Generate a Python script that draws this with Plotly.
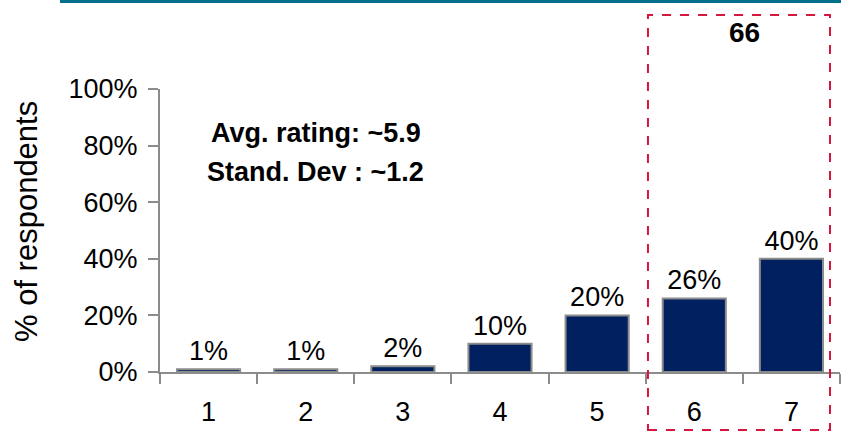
import plotly.graph_objects as go

categories = ["1", "2", "3", "4", "5", "6", "7"]
shares = [1, 1, 2, 10, 20, 26, 40]
bar_labels = ["1%", "1%", "2%", "10%", "20%", "26%", "40%"]
y_ticks = [0, 20, 40, 60, 80, 100]
y_tick_labels = ["0%", "20%", "40%", "60%", "80%", "100%"]
top_box_total = "66"
stats_lines = ["Avg. rating: ~5.9", "Stand. Dev : ~1.2"]

font_name = "Liberation Sans, Arial, sans-serif"
navy = "#002060"
grey = "#8c8c8c"

fig = go.Figure()
fig.add_trace(
    go.Bar(
        x=categories,
        y=shares,
        text=bar_labels,
        textposition="outside",
        textfont=dict(size=27, color="black", family=font_name),
        cliponaxis=False,
        marker=dict(color=navy, line=dict(color=grey, width=2)),
        width=0.65,
    )
)

fig.update_layout(
    width=841,
    height=434,
    margin=dict(l=160, r=1, t=89, b=62),
    plot_bgcolor="white",
    paper_bgcolor="white",
    showlegend=False,
    font=dict(family=font_name, size=27, color="black"),
)

fig.update_xaxes(
    type="category",
    range=[-0.5, 6.5],
    automargin=False,
    showline=True,
    linecolor=grey,
    linewidth=2,
    ticks="outside",
    ticklen=10,
    tickcolor=grey,
    tickwidth=2,
    tickson="boundaries",
    ticklabelstandoff=15,
    showgrid=False,
    tickfont=dict(size=27),
)
fig.update_yaxes(
    range=[0, 100],
    automargin=False,
    tickvals=y_ticks,
    ticktext=y_tick_labels,
    showline=True,
    linecolor=grey,
    linewidth=2,
    ticks="outside",
    ticklen=10,
    tickcolor=grey,
    tickwidth=2,
    ticklabelstandoff=5,
    showgrid=False,
    zeroline=False,
    tickfont=dict(size=27),
)

# y title as a rotated annotation so it sits where the original has it
fig.add_annotation(
    x=-0.197, y=0.53, xref="paper", yref="paper", text="% of respondents",
    textangle=-90, showarrow=False, xanchor="center", yanchor="middle",
    font=dict(size=31),
)

# teal rule along the top
fig.add_shape(
    type="rect", xref="paper", yref="paper",
    x0=-0.147, x1=1.002, y0=1.304, y1=1.318,
    fillcolor="#00708a", line=dict(width=0),
)

# dashed box round the top two ratings
fig.add_shape(
    type="rect", xref="paper", yref="paper",
    x0=0.7176, x1=0.9853, y0=-0.205, y1=1.2615,
    line=dict(color="#d6163e", width=2, dash="dash"),
    fillcolor="rgba(0,0,0,0)",
)

fig.add_annotation(
    x=0.860, y=1.198, xref="paper", yref="paper", text="<b>%s</b>" % top_box_total,
    showarrow=False, xanchor="center", yanchor="middle", font=dict(size=28),
)
fig.add_annotation(
    x=0.229, y=0.845, xref="paper", yref="paper", text="<b>%s</b>" % stats_lines[0],
    showarrow=False, xanchor="center", yanchor="middle", font=dict(size=27),
)
fig.add_annotation(
    x=0.229, y=0.707, xref="paper", yref="paper", text="<b>%s</b>" % stats_lines[1],
    showarrow=False, xanchor="center", yanchor="middle", font=dict(size=27),
)

# the page's default 8px body margin would shift the whole figure
fig.write_html(
    "out.html",
    config={"displayModeBar": False},
    post_script="document.body.style.margin='0';",
)
